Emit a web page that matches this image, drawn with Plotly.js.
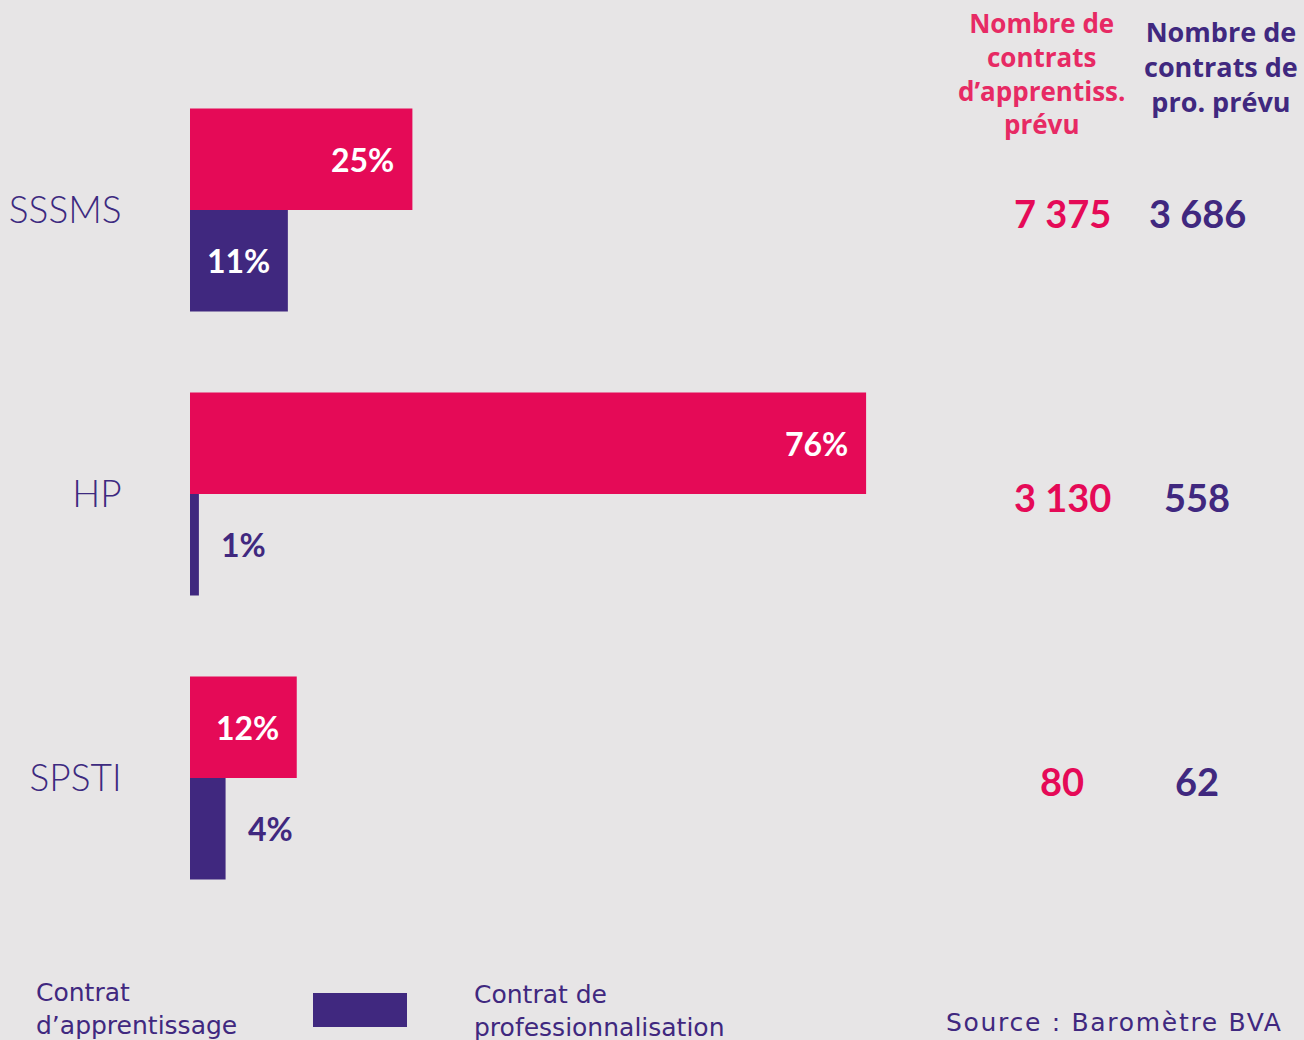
<!DOCTYPE html>
<html><head><meta charset="utf-8">
<script src="https://cdn.plot.ly/plotly-3.0.1.min.js"></script>
<style>html,body{margin:0;padding:0;background:#e7e5e6;overflow:hidden;}</style>
</head><body><div id="chart" style="width:1304px;height:1040px;"></div>
<script>
const categories = ['SSSMS', 'HP', 'SPSTI'];
const seriesNames = ['Contrat<br>d’apprentissage', 'Contrat de<br>professionnalisation'];
const apprentissagePct = [25, 76, 12];
const professionnalisationPct = [11, 1, 4];
const apprentissageCount = ['7 375', '3 130', '80'];
const professionnalisationCount = ['3 686', '558', '62'];
const columnHeaders = ['Nombre de<br>contrats<br>d’apprentiss.<br>prévu', 'Nombre de<br>contrats de<br>pro. prévu'];
const sourceText = 'Source : Baromètre BVA';

const PINK = '#e50a57', PURPLE = '#40287f', BG = '#e7e5e6';
const W = 1304, H = 1040, L = 190, R = 2, T = 68, B = 120;
const plotW = W - L - R, plotH = H - T - B;
const px = x => (x - L) / plotW;
const py = y => (H - B - y) / plotH;
const barGap = 0.285;
const pxPerCat = plotH / categories.length;
const barOffset = (1 - barGap) / 4 * pxPerCat;

const traces = [
  {type: 'bar', orientation: 'h', name: seriesNames[0], y: categories, x: apprentissagePct,
   marker: {color: PINK, line: {width: 0}}, hoverinfo: 'x+y'},
  {type: 'bar', orientation: 'h', name: seriesNames[1], y: categories, x: professionnalisationPct,
   marker: {color: PURPLE, line: {width: 0}}, hoverinfo: 'x+y'}
];

const annotations = [];
const labelFont = (c) => ({family: 'Lato', size: 32, color: c, weight: 'bold'});
function barLabel(v, cat, shift, barColorIsPurple) {
  const inside = v >= 10;
  annotations.push({
    x: v, y: cat, xref: 'x', yref: 'y', text: v + '%', showarrow: false,
    xanchor: inside ? 'right' : 'left', xshift: inside ? -16 : 20, yshift: shift,
    font: labelFont(inside ? '#ffffff' : (barColorIsPurple ? PURPLE : PINK))
  });
}
categories.forEach((c, i) => {
  barLabel(apprentissagePct[i], c, barOffset, false);
  barLabel(professionnalisationPct[i], c, -barOffset, true);
  annotations.push({x: px(1062), y: c, xref: 'paper', yref: 'y', yshift: -3, text: apprentissageCount[i],
    showarrow: false, xanchor: 'center', font: {family: 'Lato', size: 38, color: PINK, weight: 'bold'}});
  annotations.push({x: px(1197), y: c, xref: 'paper', yref: 'y', yshift: -3, text: professionnalisationCount[i],
    showarrow: false, xanchor: 'center', font: {family: 'Lato', size: 38, color: PURPLE, weight: 'bold'}});
});
annotations.push({x: px(1041), y: py(73), xref: 'paper', yref: 'paper', text: columnHeaders[0], showarrow: false,
  xanchor: 'center', yanchor: 'middle', align: 'center',
  font: {family: 'Open Sans', size: 26, color: '#e72a64', weight: 'bold'}});
annotations.push({x: px(1221), y: py(66), xref: 'paper', yref: 'paper', text: columnHeaders[1], showarrow: false,
  xanchor: 'center', yanchor: 'middle', align: 'center',
  font: {family: 'Open Sans', size: 27, color: PURPLE, weight: 'bold'}});
// legend
annotations.push({x: px(34), y: py(1009), xref: 'paper', yref: 'paper', text: seriesNames[0], showarrow: false,
  xanchor: 'left', yanchor: 'middle', align: 'left', font: {family: 'DejaVu Sans', size: 25, color: PURPLE}});
annotations.push({x: px(472), y: py(1011), xref: 'paper', yref: 'paper', text: seriesNames[1], showarrow: false,
  xanchor: 'left', yanchor: 'middle', align: 'left', font: {family: 'DejaVu Sans', size: 25, color: PURPLE}});
annotations.push({x: px(944), y: py(1022), xref: 'paper', yref: 'paper',
  text: '<span style="letter-spacing:1.7px">' + sourceText + '</span>', showarrow: false,
  xanchor: 'left', yanchor: 'middle', font: {family: 'DejaVu Sans', size: 25, color: PURPLE}});

const layout = {
  width: W, height: H, paper_bgcolor: BG, plot_bgcolor: BG,
  margin: {l: L, r: R, t: T, b: B, pad: 0},
  barmode: 'group', bargap: barGap, bargroupgap: 0, showlegend: false,
  xaxis: {range: [0, 125], visible: false, fixedrange: true},
  yaxis: {type: 'category', range: [2.5, -0.5], showgrid: false, zeroline: false, showline: false,
    ticks: 'outside', ticklen: 60, tickcolor: 'rgba(0,0,0,0)',
    tickfont: {family: 'Lato', size: 37, color: '#3d2a80', weight: 300}, fixedrange: true},
  shapes: [{type: 'rect', xref: 'paper', yref: 'paper', x0: px(313), x1: px(407), y0: py(1027), y1: py(993),
    fillcolor: PURPLE, line: {width: 0}}],
  annotations: annotations
};
Plotly.newPlot('chart', traces, layout, {displayModeBar: false, staticPlot: true});
</script></body></html>
